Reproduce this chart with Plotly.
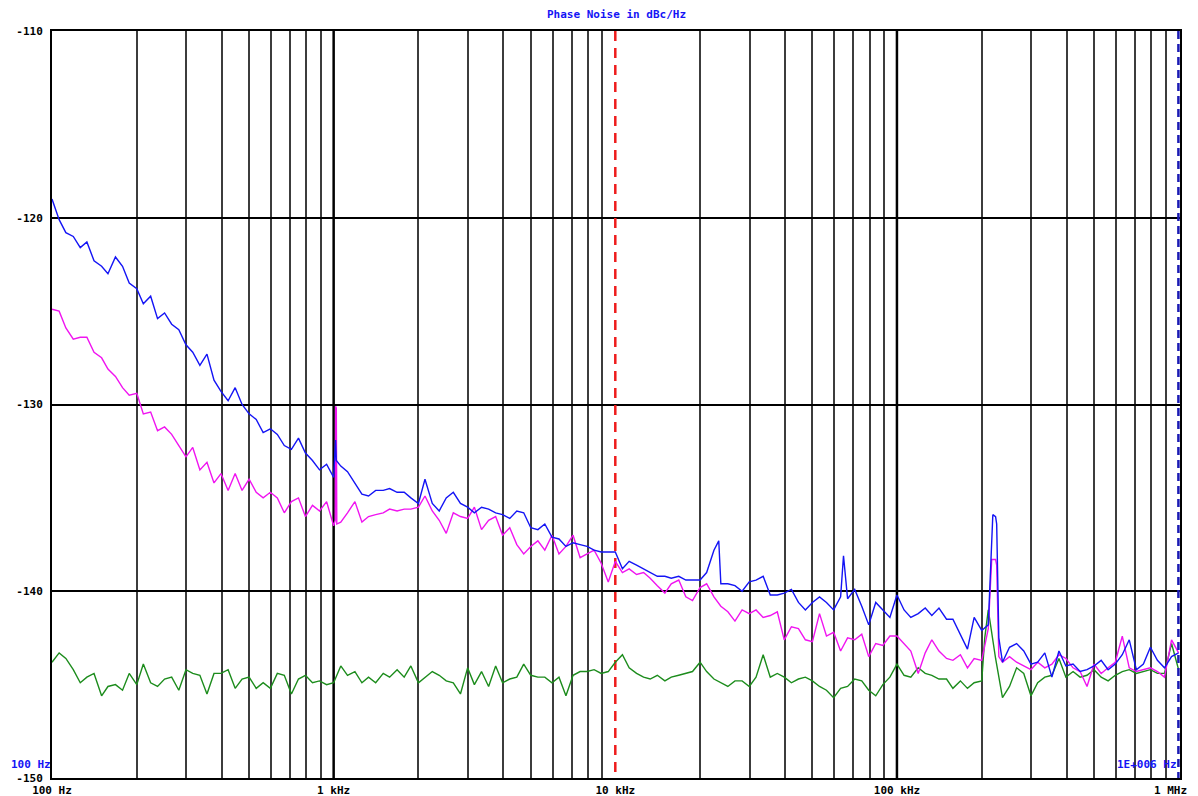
import plotly.graph_objects as go

# ---------------- data ----------------
MANTISSA = [1.00, 1.06, 1.12, 1.19, 1.26, 1.33, 1.41, 1.50, 1.58, 1.68,
            1.78, 1.88, 2.00, 2.11, 2.24, 2.37, 2.51, 2.66, 2.82, 2.99,
            3.16, 3.35, 3.55, 3.76, 3.98, 4.22, 4.47, 4.73, 5.01, 5.31,
            5.62, 5.96, 6.31, 6.68, 7.08, 7.50, 7.94, 8.41, 8.91, 9.44]
DECADES = [2, 3, 4, 5]
FREQ_HZ = [round(m * 10 ** d, 3) for d in DECADES for m in MANTISSA] + [1.0e6]

BLUE_DBC = [
    -119.0, -120.1, -120.8, -121.0, -121.6, -121.3, -122.3, -122.6, -123.0, -122.1,
    -122.6, -123.5, -123.8, -124.6, -124.2, -125.4, -125.1, -125.7, -126.0, -126.8,
    -127.2, -127.9, -127.3, -128.7, -129.3, -129.8, -129.1, -130.0, -130.5, -130.8,
    -131.5, -131.3, -131.6, -132.2, -132.4, -131.8, -132.6, -133.0, -133.5, -133.2,
    -133.9, -133.3, -133.6, -134.2, -134.8, -134.9, -134.6, -134.6, -134.5, -134.7,
    -134.7, -135.0, -135.3, -134.0, -135.3, -135.7, -135.0, -134.7, -135.3, -135.5,
    -135.8, -135.5, -135.6, -135.8, -135.9, -136.1, -135.7, -135.8, -136.6, -136.7,
    -136.4, -137.1, -137.2, -137.6, -137.4, -137.5, -137.6, -137.8, -137.9, -137.9,
    -137.9, -138.8, -138.4, -138.6, -138.8, -139.0, -139.2, -139.2, -139.3, -139.2,
    -139.4, -139.4, -139.4, -139.0, -137.8, -139.6, -139.6, -139.7, -140.0, -139.5,
    -139.4, -139.2, -140.2, -140.2, -140.1, -139.9, -140.6, -141.0, -140.6, -140.3,
    -140.6, -141.0, -140.3, -140.4, -139.9, -140.8, -141.8, -140.6, -141.0, -141.4,
    -140.2, -141.0, -141.4, -141.2, -140.9, -141.3, -140.9, -141.5, -141.5, -142.3,
    -143.1, -141.4, -142.1, -141.8, -136.0, -143.8, -143.0, -142.8, -143.2, -143.9,
    -143.8, -143.3, -144.6, -143.2, -144.0, -143.9, -144.3, -144.2, -144.0, -143.7,
    -144.2, -143.9, -143.4, -142.6, -144.2, -143.9, -143.0, -143.7, -144.1, -143.5,
    -143.3]

MAGENTA_DBC = [
    -124.9, -125.0, -125.9, -126.5, -126.4, -126.4, -127.2, -127.5, -128.1, -128.5,
    -129.1, -129.5, -129.4, -130.5, -130.4, -131.4, -131.2, -131.6, -132.2, -132.8,
    -132.3, -133.5, -133.1, -134.2, -133.7, -134.6, -133.7, -134.6, -134.0, -134.7,
    -135.0, -134.7, -135.0, -135.8, -135.2, -135.0, -136.0, -135.4, -135.7, -135.2,
    -136.5, -136.3, -135.8, -135.2, -136.3, -136.0, -135.9, -135.8, -135.6, -135.7,
    -135.6, -135.6, -135.5, -134.9, -135.7, -136.2, -136.9, -135.8, -136.0, -136.1,
    -135.5, -136.7, -136.2, -136.0, -137.0, -136.6, -137.5, -138.0, -137.6, -137.3,
    -137.8, -137.0, -138.0, -137.6, -137.0, -138.2, -138.0, -137.8, -138.5, -139.5,
    -138.4, -139.0, -138.8, -139.1, -139.0, -139.3, -139.7, -140.1, -139.6, -139.4,
    -140.3, -140.5, -139.8, -139.6, -140.3, -140.8, -141.1, -141.6, -141.0, -141.2,
    -141.0, -141.4, -141.3, -141.1, -142.6, -141.9, -142.0, -142.6, -142.7, -141.2,
    -142.4, -142.2, -143.2, -142.5, -142.6, -142.3, -143.5, -142.8, -142.9, -142.4,
    -142.4, -142.8, -143.2, -144.4, -143.3, -142.6, -143.2, -143.6, -143.7, -143.4,
    -144.1, -143.6, -143.7, -142.0, -138.3, -143.8, -143.5, -143.8, -144.0, -144.2,
    -143.8, -144.1, -143.9, -143.4, -143.6, -144.1, -144.3, -145.1, -143.9, -144.4,
    -144.1, -143.8, -142.4, -144.1, -144.3, -144.2, -144.1, -144.3, -144.6, -142.6,
    -143.3]

GREEN_DBC = [
    -143.8, -143.3, -143.6, -144.2, -144.9, -144.6, -144.4, -145.6, -145.1, -145.0,
    -145.3, -144.4, -145.0, -143.9, -144.9, -145.1, -144.7, -144.6, -145.3, -144.2,
    -144.4, -144.5, -145.5, -144.4, -144.4, -144.2, -145.2, -144.7, -144.6, -145.2,
    -144.9, -145.2, -144.4, -144.5, -145.5, -144.7, -144.5, -144.9, -144.8, -145.0,
    -144.9, -144.0, -144.5, -144.3, -144.9, -144.6, -144.9, -144.4, -144.6, -144.2,
    -144.6, -144.0, -144.9, -144.6, -144.3, -144.5, -144.8, -144.9, -145.5, -144.1,
    -145.0, -144.3, -145.1, -144.0, -144.9, -144.7, -144.6, -143.9, -144.5, -144.6,
    -144.6, -144.9, -144.6, -145.6, -144.5, -144.3, -144.3, -144.2, -144.4, -144.3,
    -143.8, -143.4, -144.1, -144.4, -144.6, -144.7, -144.5, -144.8, -144.6, -144.5,
    -144.4, -144.3, -143.8, -144.3, -144.7, -144.9, -145.1, -144.8, -144.8, -145.1,
    -144.6, -143.4, -144.6, -144.4, -144.6, -144.9, -144.7, -144.6, -144.8, -145.1,
    -145.3, -145.7, -145.2, -145.1, -144.7, -144.8, -145.3, -145.6, -145.0, -144.6,
    -143.9, -144.5, -144.6, -144.1, -144.4, -144.5, -144.7, -144.7, -145.2, -144.8,
    -145.2, -144.9, -144.8, -141.0, -143.6, -145.7, -145.1, -144.1, -144.4, -145.6,
    -144.9, -144.6, -144.5, -143.6, -144.6, -144.3, -144.6, -144.5, -144.2, -144.6,
    -144.8, -144.5, -144.3, -144.2, -144.4, -144.3, -144.2, -144.4, -144.4, -142.8,
    -144.2]

# narrow spurs read between the grid frequencies
BLUE_SPUR_HZ = [1016, 1022, 23300, 64600, 216000, 219000, 226000, 230000]
BLUE_SPUR_DBC = [-131.9, -133.0, -137.3, -138.1, -138.5, -135.9, -136.4, -142.5]
MAGENTA_SPUR_HZ = [1013, 1016, 1022, 1026, 217000, 226000, 230000]
MAGENTA_SPUR_DBC = [-136.2, -130.1, -130.2, -136.4, -138.3, -138.6, -143.5]
GREEN_SPUR_HZ = [205000]
GREEN_SPUR_DBC = [-142.5]

DECADE_TICKS = [1e2, 1e3, 1e4, 1e5]
DECADE_LABELS = ["100 Hz", "1 kHz", "10 kHz", "100 kHz"]
END_LABEL = "1 MHz"
Y_TICKS = [-150, -140, -130, -120, -110]
Y_LABELS = ["-150", "-140", "-130", "-120", "-110"]
MARKER_HZ = 1e4        # red dashed marker
STOP_HZ = 1e6          # blue dashed marker
TITLE = "Phase Noise in dBc/Hz"
START_LABEL = "100 Hz"
STOP_LABEL = "1E+006 Hz"


def merge(f, v, sf, sv):
    pts = sorted(list(zip(f, v)) + list(zip(sf, sv)))
    return [p[0] for p in pts], [p[1] for p in pts]


FONT = "DejaVu Sans Mono"
BLUE = "#1414f5"
MAGENTA = "#f014f0"
GREEN = "#1c8c1c"

fig = go.Figure()

# decade grid lines (thicker) - 10 kHz hidden behind marker
for f in [1e3, 1e5]:
    fig.add_trace(go.Scatter(x=[f, f], y=[-150, -110], mode="lines",
                             line=dict(color="#000000", width=2.5),
                             hoverinfo="skip", showlegend=False))

fig.add_trace(go.Scatter(x=[MARKER_HZ, MARKER_HZ], y=[-110, -150], mode="lines",
                         line=dict(color="#ee1c1c", width=2.5, dash="10px,7px"),
                         hoverinfo="skip", showlegend=False))

gx, gy = merge(FREQ_HZ, GREEN_DBC, GREEN_SPUR_HZ, GREEN_SPUR_DBC)
mx, my = merge(FREQ_HZ, MAGENTA_DBC, MAGENTA_SPUR_HZ, MAGENTA_SPUR_DBC)
bx, by = merge(FREQ_HZ, BLUE_DBC, BLUE_SPUR_HZ, BLUE_SPUR_DBC)

fig.add_trace(go.Scatter(x=gx, y=gy, mode="lines", line=dict(color=GREEN, width=1.4),
                         showlegend=False))
fig.add_trace(go.Scatter(x=mx, y=my, mode="lines", line=dict(color=MAGENTA, width=1.4),
                         showlegend=False))
fig.add_trace(go.Scatter(x=bx, y=by, mode="lines", line=dict(color=BLUE, width=1.4),
                         showlegend=False))

fig.add_trace(go.Scatter(x=[STOP_HZ * 0.9985, STOP_HZ * 0.9985], y=[-110, -150], mode="lines",
                         line=dict(color="#1a1ab4", width=2.5, dash="8px,5px"),
                         hoverinfo="skip", showlegend=False))

minor_vals = [m * 10 ** d for d in DECADES for m in range(2, 10)]

# the page places the figure about 8 px in from the window corner
fig.update_layout(
    width=1198, height=796,
    margin=dict(l=44, r=26, t=23, b=26, autoexpand=False),
    paper_bgcolor="white", plot_bgcolor="white",
    font=dict(family=FONT, size=11, color="black", weight="bold"),
    xaxis=dict(
        type="log", range=[2, 6.005], automargin=False,
        tickmode="array", tickvals=DECADE_TICKS, ticktext=DECADE_LABELS,
        showgrid=False, zeroline=False,
        showline=True, linecolor="black", linewidth=2, mirror=True,
        ticks="", ticklabelstandoff=1,
        minor=dict(tickmode="array", tickvals=minor_vals, showgrid=True,
                   gridcolor="#3c3c3c", gridwidth=1.5, ticks=""),
    ),
    yaxis=dict(
        range=[-150, -110], automargin=False,
        tickmode="array", tickvals=Y_TICKS, ticktext=Y_LABELS,
        showgrid=True, gridcolor="black", gridwidth=1.5, zeroline=False,
        showline=True, linecolor="black", linewidth=2, mirror=True,
        ticks="", ticklabelstandoff=5,
    ),
    annotations=[
        dict(text=TITLE, xref="paper", yref="paper", x=0.5, y=1 + 16 / 747,
             xanchor="center", yanchor="middle", showarrow=False,
             font=dict(family=FONT, size=11, color=BLUE, weight="bold")),
        dict(text=START_LABEL, xref="paper", yref="paper", x=0, y=14 / 747,
             xanchor="right", yanchor="middle", showarrow=False, xshift=1,
             font=dict(family=FONT, size=11, color=BLUE, weight="bold")),
        dict(text=STOP_LABEL, xref="paper", yref="paper", x=1, y=14 / 747,
             xanchor="right", yanchor="middle", showarrow=False, xshift=-1,
             font=dict(family=FONT, size=11, color=BLUE, weight="bold")),
        dict(text=END_LABEL, xref="paper", yref="paper", x=1, y=0,
             xanchor="right", yanchor="middle", showarrow=False,
             xshift=9, yshift=-12,
             font=dict(family=FONT, size=11, color="black", weight="bold")),
    ],
)

fig.write_html("out.html")
